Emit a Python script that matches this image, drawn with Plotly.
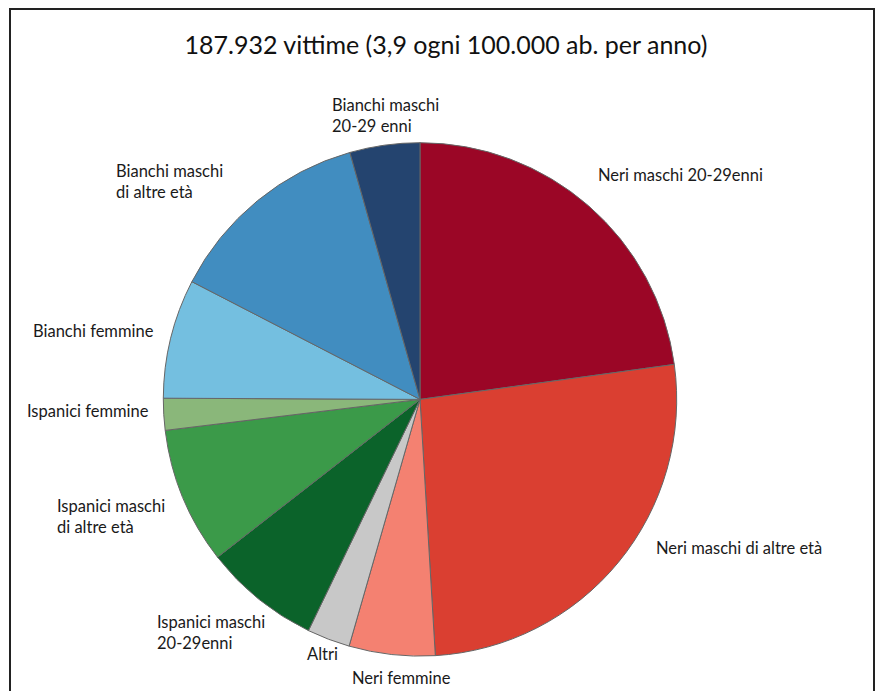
import plotly.graph_objects as go

# Homicide victims by group (share of total, %), clockwise from 12 o'clock
labels = [
    "Neri maschi 20-29enni",
    "Neri maschi di altre età",
    "Neri femmine",
    "Altri",
    "Ispanici maschi<br>20-29enni",
    "Ispanici maschi<br>di altre età",
    "Ispanici femmine",
    "Bianchi femmine",
    "Bianchi maschi<br>di altre età",
    "Bianchi maschi<br>20-29 enni",
]
shares = [22.8, 26.2, 5.4, 2.7, 7.3, 8.6, 2.0, 7.5, 13.0, 4.4]
colors = [
    "#9B0626", "#DA3F31", "#F48171", "#C8C8C8", "#0B632A",
    "#3B9A49", "#8AB77A", "#74BFE0", "#418DC0", "#24446F",
]
title_text = "187.932 vittime (3,9 ogni 100.000 ab. per anno)"

# label anchor points in pixels (left edge of text, vertical centre)
label_pos = [
    (596, 175), (654, 548), (350, 678), (305, 654), (155, 632),
    (55, 516), (25, 411), (31, 331), (114, 182), (330, 115),
]

W, H = 876, 691
cx, cy, r = 420, 399.4, 256.7

fig = go.Figure(go.Pie(
    labels=labels,
    values=shares,
    sort=False,
    direction="clockwise",
    rotation=0,
    marker=dict(colors=colors, line=dict(color="#666666", width=1)),
    textinfo="none",
    hoverinfo="label+percent",
    showlegend=False,
    domain=dict(
        x=[(cx - r) / W, (cx + r) / W],
        y=[(H - cy - r) / H, (H - cy + r) / H],
    ),
))

annotations = []
for lab, (px, py) in zip(labels, label_pos):
    annotations.append(dict(
        text=lab, x=px / W, y=(H - py) / H, xref="paper", yref="paper",
        xanchor="left", yanchor="middle", align="left", showarrow=False,
        font=dict(family="Lato, Open Sans, sans-serif", size=16.5, color="#1a1a1a"),
    ))

fig.update_layout(
    width=W, height=H,
    margin=dict(l=0, r=0, t=0, b=0),
    paper_bgcolor="white",
    plot_bgcolor="white",
    title=dict(
        text=title_text, x=446 / W, xanchor="center",
        y=(H - 45) / H, yanchor="middle",
        font=dict(family="Lato, Open Sans, sans-serif", size=25, color="#111111"),
    ),
    annotations=annotations,
    shapes=[dict(
        type="rect", xref="paper", yref="paper",
        x0=10 / W, x1=874 / W, y0=-0.05, y1=(H - 9) / H,
        line=dict(color="#222222", width=2), fillcolor="rgba(0,0,0,0)",
    )],
)

fig.write_html("out.html")
